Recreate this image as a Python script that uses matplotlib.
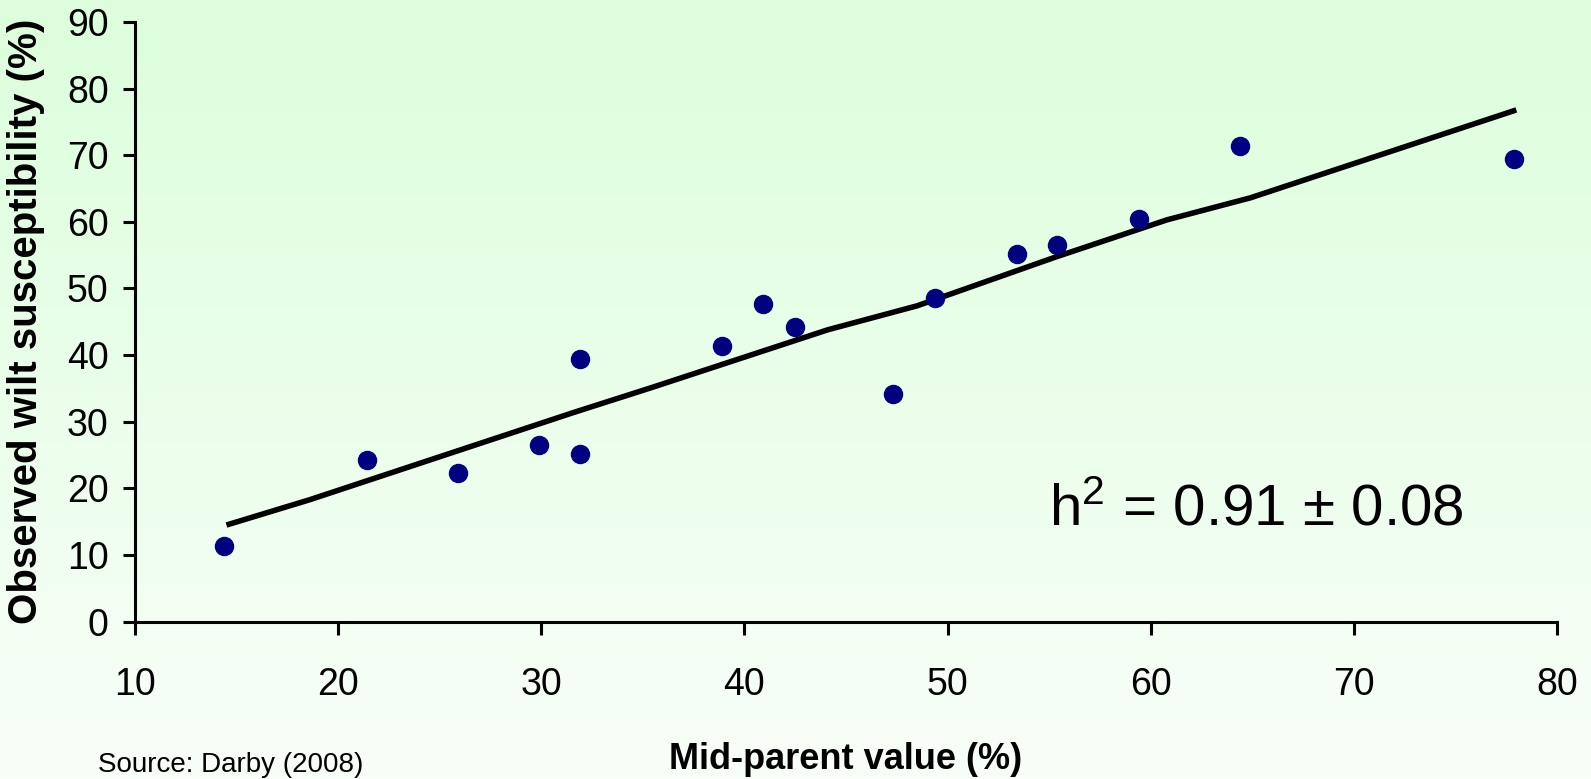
import numpy as np
import matplotlib
matplotlib.use('Agg')
import matplotlib.pyplot as plt
from matplotlib.colors import LinearSegmentedColormap

# mid-parent value vs observed wilt susceptibility (%)
mid_parent = [14.4, 21.4, 25.9, 29.9, 31.9, 31.9, 38.9, 40.9, 42.5, 47.3,
              49.4, 53.4, 55.4, 59.4, 64.4, 77.9]
observed = [11.3, 24.3, 22.3, 26.5, 39.4, 25.2, 41.3, 47.6, 44.2, 34.2,
            48.5, 55.2, 56.6, 60.4, 71.4, 69.4]

# fitted line as drawn in the source
fit_x = [14.5, 18.6, 31.6, 35.5, 44.1, 48.5, 55.3, 60.8, 64.9, 78.0]
fit_y = [14.5, 18.3, 31.4, 35.2, 43.8, 47.4, 54.7, 60.3, 63.6, 76.8]

x_ticks = [10, 20, 30, 40, 50, 60, 70, 80]
y_ticks = [0, 10, 20, 30, 40, 50, 60, 70, 80, 90]

plt.rcParams['font.family'] = ['Liberation Sans', 'DejaVu Sans']
plt.rcParams['mathtext.fontset'] = 'custom'
plt.rcParams['mathtext.rm'] = 'Liberation Sans'
plt.rcParams['mathtext.it'] = 'Liberation Sans'

fig = plt.figure(figsize=(15.91, 7.79), dpi=100)

# green-to-white background gradient
bg = fig.add_axes([0, 0, 1, 1], zorder=0)
cmap = LinearSegmentedColormap.from_list('bg', ['#F8FFF8', '#DCFEDC'])
grad = np.linspace(0, 1, 256).reshape(-1, 1)
bg.imshow(grad, aspect='auto', cmap=cmap, origin='lower', extent=[0, 1, 0, 1])
bg.axis('off')

ax = fig.add_axes([0.0849, 0.202, 0.8937, 0.7698], zorder=1)
ax.patch.set_alpha(0)

ax.plot(fit_x, fit_y, color='black', lw=4, solid_capstyle='butt', zorder=2)
ax.plot(mid_parent, observed, 'o', color='#000080', ms=13, mec='#000080', zorder=3)

ax.set_xlim(10, 80)
ax.set_ylim(0, 90)
ax.set_xticks(x_ticks)
ax.set_yticks(y_ticks)
ax.spines['top'].set_visible(False)
ax.spines['right'].set_visible(False)
for s in ('left', 'bottom'):
    ax.spines[s].set_linewidth(2.2)
ax.tick_params(axis='both', direction='out', length=9, width=2.2, labelsize=27)
ax.tick_params(axis='x', pad=24)
ax.tick_params(axis='y', pad=10)

ax.set_ylabel('Observed wilt susceptibility (%)', fontsize=29, fontweight='bold', labelpad=16)
ax.set_xlabel('Mid-parent value (%)', fontsize=26, fontweight='bold', labelpad=28)

ax.text(55.0, 14.5, r'h$^{\mathrm{2}}$ = 0.91 ± 0.08', fontsize=42, ha='left', va='baseline')

fig.text(98 / 1591, 1 - 752 / 779, 'Source: Darby (2008)', fontsize=20, ha='left', va='top')

fig.savefig('out.png', dpi=100)
